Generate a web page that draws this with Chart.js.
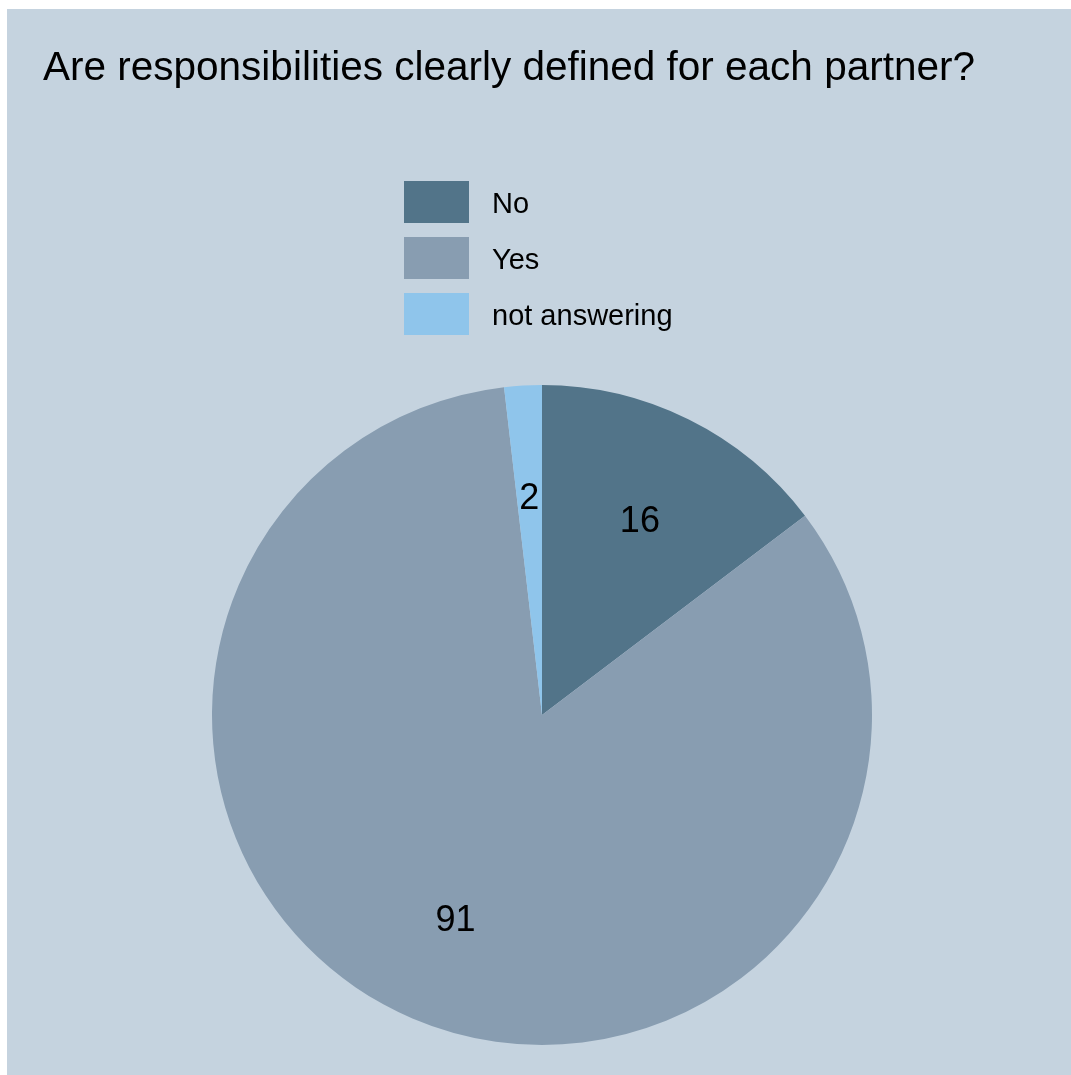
<!DOCTYPE html>
<html>
<head>
<meta charset="utf-8">
<script src="https://cdn.jsdelivr.net/npm/chart.js@4"></script>
<style>
  body { margin: 0; background: #ffffff; }
  #wrap { position: absolute; left: 7px; top: 9px; width: 1064px; height: 1066px; background: #c5d3df; }
</style>
</head>
<body>
<div id="wrap"><canvas id="pie"></canvas></div>
<script>
const chartTitle = 'Are responsibilities clearly defined for each partner?';
const answerLabels = ['No', 'Yes', 'not answering'];
const answerCounts = [16, 91, 2];
const answerColors = ['#527489', '#889db1', '#8fc5eb'];

// values written inside the slices, at 2/3 of the radius
const sliceLabels = {
    id: 'sliceLabels',
    afterDatasetsDraw(chart) {
        let ctx = chart.ctx;
        let meta = chart.getDatasetMeta(0);
        ctx.save();
        ctx.font = '36px "Liberation Sans", Arial, sans-serif';
        ctx.fillStyle = '#000';
        ctx.textAlign = 'center';
        ctx.textBaseline = 'middle';
        meta.data.forEach((arc, i) => {
            let p = arc.getProps(['x', 'y', 'startAngle', 'endAngle', 'outerRadius'], true);
            let a = (p.startAngle + p.endAngle) / 2;
            let r = p.outerRadius * 2 / 3;
            ctx.fillText(chart.data.datasets[0].data[i], p.x + Math.cos(a) * r, p.y + Math.sin(a) * r + 4);
        });
        ctx.restore();
    }
};

// legend stacked one item per row, in the gap under the title
const stackedLegend = {
    id: 'stackedLegend',
    afterDraw(chart) {
        let ctx = chart.ctx;
        let items = Chart.overrides.pie.plugins.legend.labels.generateLabels(chart);
        ctx.save();
        ctx.font = '29px "Liberation Sans", Arial, sans-serif';
        ctx.textBaseline = 'middle';
        items.forEach((it, i) => {
            let y = 172 + i * 56;
            ctx.fillStyle = it.fillStyle;
            ctx.fillRect(397, y, 65, 42);
            ctx.fillStyle = '#000';
            ctx.fillText(it.text, 485, y + 24);
        });
        ctx.restore();
    }
};

function pieChart(id) {
    const data = {
        labels: answerLabels,
        datasets: [{
            data: answerCounts,
            backgroundColor: answerColors,
            borderWidth: 0
        }]
    };

    const config = {
        type: 'pie',
        data: data,
        options: {
            responsive: false,
            animation: false,
            layout: { padding: { left: 36, right: 30, top: 0, bottom: 30 } },
            plugins: {
                legend: { display: false },
                tooltip: { enabled: false },
                title: {
                    display: true,
                    text: chartTitle,
                    align: 'start',
                    color: '#000',
                    font: { family: '"Liberation Sans", Arial, sans-serif', size: 40.5, weight: 'normal', lineHeight: 1.2 },
                    padding: { top: 36, bottom: 291.4 }
                }
            }
        },
        plugins: [sliceLabels, stackedLegend]
    };
    let c = document.getElementById(id);
    c.width = 1064;
    c.height = 1066;
    new Chart(c.getContext('2d'), config);
}

pieChart('pie');
</script>
</body>
</html>
